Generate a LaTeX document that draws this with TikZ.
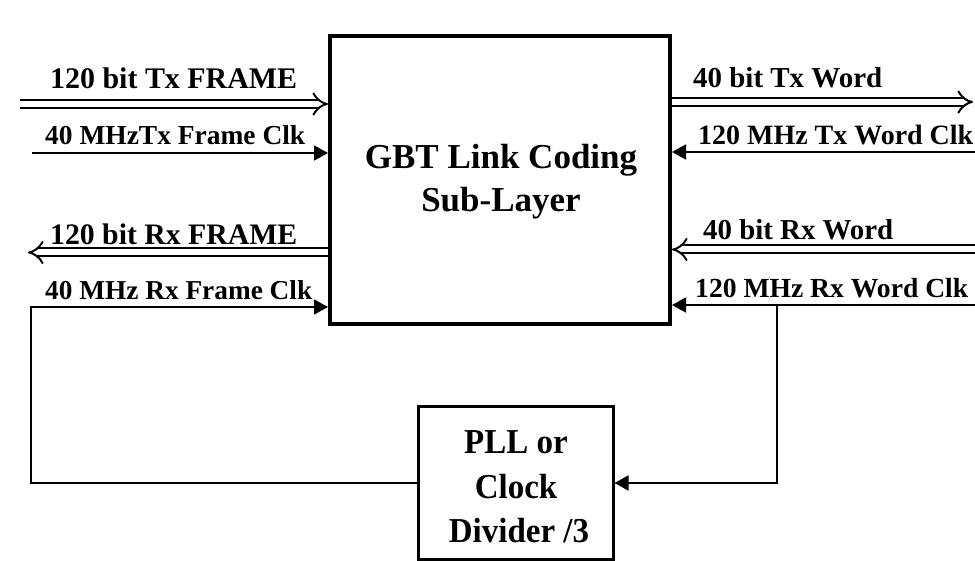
\documentclass[tikz,border=0pt]{standalone}
\usepackage{fontspec}
\setmainfont{Liberation Serif}
\usetikzlibrary{arrows.meta}
% label text stretched to a given width
\newcommand{\fitlbl}[2]{\resizebox{#1}{!}{\bfseries #2}}
\newcommand{\tall}[2]{\scalebox{1}[#1]{#2}}

\begin{document}
\begin{tikzpicture}[x=1pt,y=-1pt,
  blockbox/.style={draw, line width=4pt, inner sep=0pt},
  blocktext/.style={inner sep=0pt, anchor=base, font=\bfseries},
  bus/.style={double, double distance=6pt, line width=2pt, -{Implies}},
  clk/.style={line width=1.8pt, -{Triangle[length=14pt,width=15pt]}},
  lbl/.style={inner sep=0pt, anchor=base west}]
\useasboundingbox (0,0) rectangle (975,561);

% blocks
\node[blockbox, minimum width=340pt, minimum height=288pt] (gbt) at (500,180) {};
\node[blockbox, line width=3pt, minimum width=195pt, minimum height=153pt] (pll) at (515.5,482.5) {};

% block texts
\node[blocktext, font=\fontsize{35pt}{42pt}\selectfont\bfseries] (gbt1) at (501,169) {GBT Link Coding};
\node[blocktext, font=\fontsize{35pt}{42pt}\selectfont\bfseries] (gbt2) at (501,212) {Sub-Layer};
\node[blocktext, font=\fontsize{33pt}{40pt}\selectfont\bfseries] (pll1) at (516,453) {\tall{1.06}{PLL or}};
\node[blocktext, font=\fontsize{33pt}{40pt}\selectfont\bfseries] (pll2) at (516,498) {\tall{1.06}{Clock}};
\node[blocktext, font=\fontsize{33pt}{40pt}\selectfont\bfseries] (pll3) at (519,542) {\tall{1.06}{Divider /3}};

% free ends of the connectors
\coordinate (txf)  at (20,104);
\coordinate (txc)  at (32,153);
\coordinate (rxf)  at (28,252.5);
\coordinate (rxc)  at (31,307);
\coordinate (fbl)  at (31,483);
\coordinate (txw)  at (973,102);
\coordinate (txwc) at (975,152);
\coordinate (rxw)  at (975,249.5);
\coordinate (rxwc) at (975,305);
\coordinate (tap)  at (777,305);
\coordinate (fbr)  at (777,483);

% left side
\draw[bus] (txf) -- (txf -| gbt.west);
\draw[clk] (txc) -- (txc -| gbt.west);
\draw[bus] (rxf -| gbt.west) -- (rxf);
\draw[clk] (pll.west |- fbl) -- (fbl) -- (rxc) -- (rxc -| gbt.west);

% right side
\draw[bus] (txw -| gbt.east) -- (txw);
\draw[clk] (txwc) -- (txwc -| gbt.east);
\draw[bus] (rxw) -- (rxw -| gbt.east);
\draw[clk] (rxwc) -- (rxwc -| gbt.east);
\draw[clk] (tap) -- (fbr) -- (fbr -| pll.east);

% signal labels
\node[lbl] (l1) at (50,89)   {\fitlbl{247pt}{120 bit Tx FRAME}};
\node[lbl] (l2) at (45,145)  {\fitlbl{260pt}{40 MHzTx Frame Clk}};
\node[lbl] (l3) at (50,245)  {\fitlbl{247pt}{120 bit Rx FRAME}};
\node[lbl] (l4) at (45,300)  {\fitlbl{267pt}{40 MHz Rx Frame Clk}};
\node[lbl] (r1) at (693,88)  {\fitlbl{189pt}{40 bit Tx Word}};
\node[lbl] (r2) at (698,145) {\fitlbl{275pt}{120 MHz Tx Word Clk}};
\node[lbl] (r3) at (703,240) {\fitlbl{190pt}{40 bit Rx Word}};
\node[lbl] (r4) at (695,298) {\fitlbl{273pt}{120 MHz Rx Word Clk}};
\end{tikzpicture}
\end{document}
